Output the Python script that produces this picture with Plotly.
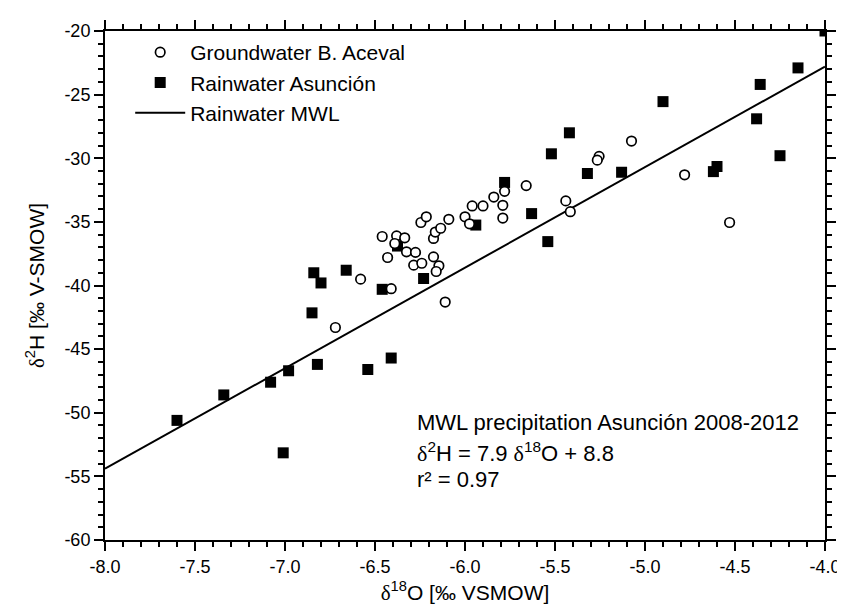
import plotly.graph_objects as go

# Groundwater B. Aceval (open circles)
gw_d18o = [-6.72, -6.58, -6.41, -6.11, -6.46, -6.43, -6.38, -6.335, -6.39, -6.325,
           -6.275, -6.285, -6.24, -6.245, -6.215, -6.175, -6.165, -6.135, -6.09, -6.175,
           -6.145, -6.16, -6.00, -5.975, -5.96, -5.90, -5.84, -5.79, -5.79, -5.78,
           -5.66, -5.44, -5.415, -5.255, -5.265, -5.075, -4.78, -4.53]
gw_d2h = [-43.3, -39.5, -40.25, -41.3, -36.15, -37.8, -36.1, -36.25, -36.7, -37.35,
          -37.4, -38.4, -38.25, -35.05, -34.6, -36.3, -35.8, -35.5, -34.8, -37.75,
          -38.45, -38.9, -34.6, -35.15, -33.75, -33.75, -33.05, -33.7, -34.7, -32.6,
          -32.15, -33.35, -34.2, -29.85, -30.15, -28.65, -31.3, -35.05]

# Rainwater Asunción (filled squares)
rw_d18o = [-7.60, -7.34, -7.08, -6.98, -6.82, -6.54, -6.41, -7.01, -6.84, -6.80,
           -6.66, -6.85, -6.46, -6.375, -6.23, -5.94, -5.78, -5.63, -5.54, -5.52,
           -5.42, -5.32, -5.13, -4.90, -4.62, -4.60, -4.38, -4.36, -4.25, -4.15, -4.0]
rw_d2h = [-50.6, -48.6, -47.6, -46.7, -46.2, -46.6, -45.7, -53.15, -39.0, -39.8,
          -38.8, -42.15, -40.3, -36.9, -39.45, -35.25, -31.9, -34.35, -36.55, -29.65,
          -28.0, -31.2, -31.1, -25.55, -31.05, -30.65, -26.9, -24.2, -29.8, -22.9, -20.0]

# Rainwater MWL (d2H = 7.9 d18O + 8.8) end points
mwl_d18o = [-8.0, -4.0]
mwl_d2h = [-54.4, -22.8]

x_tickvals = [-8.0, -7.5, -7.0, -6.5, -6.0, -5.5, -5.0, -4.5, -4.0]
x_ticktext = ["-8.0", "-7.5", "-7.0", "-6.5", "-6.0", "-5.5", "-5.0", "-4.5", "-4.0"]
y_tickvals = [-60, -55, -50, -45, -40, -35, -30, -25, -20]
y_ticktext = ["-60", "-55", "-50", "-45", "-40", "-35", "-30", "-25", "-20"]

FONT = "Arial, 'Liberation Sans', sans-serif"
delta = '<span style="font-family:Liberation Serif">δ</span>'

fig = go.Figure()
fig.add_trace(go.Scatter(
    x=mwl_d18o, y=mwl_d2h, mode="lines", name="Rainwater MWL",
    line=dict(color="black", width=2), legendrank=3))
fig.add_trace(go.Scatter(
    x=rw_d18o, y=rw_d2h, mode="markers", name="Rainwater Asunción",
    marker=dict(symbol="square", size=11, color="black", line=dict(width=0)),
    legendrank=2))
fig.add_trace(go.Scatter(
    x=gw_d18o, y=gw_d2h, mode="markers", name="Groundwater B. Aceval",
    marker=dict(symbol="circle", size=9.5, color="white",
                line=dict(color="black", width=1.7)),
    legendrank=1))

axis_common = dict(
    showline=True, linecolor="black", linewidth=2, mirror="allticks",
    ticks="outside", ticklen=9, tickwidth=2, tickcolor="black",
    showgrid=False, zeroline=False,
    tickfont=dict(family=FONT, size=18, color="black"),
)

fig.update_xaxes(
    range=[-8.0, -4.0], tickmode="array", tickvals=x_tickvals, ticktext=x_ticktext,
    minor=dict(tickmode="linear", tick0=-8.0, dtick=0.1, ticks="outside",
               ticklen=5, tickwidth=1.5, tickcolor="black", showgrid=False),
    title=dict(text=delta + "<sup>18</sup>O [‰ VSMOW]",
               font=dict(family=FONT, size=21, color="black"), standoff=10),
    **axis_common)
fig.update_yaxes(
    range=[-60, -20], tickmode="array", tickvals=y_tickvals, ticktext=y_ticktext,
    minor=dict(tickmode="linear", tick0=-60, dtick=1, ticks="outside",
               ticklen=5, tickwidth=1.5, tickcolor="black", showgrid=False),
    title=dict(text=delta + "<sup>2</sup>H [‰ V-SMOW]",
               font=dict(family=FONT, size=21, color="black"), standoff=14),
    **axis_common)

ann_font = dict(family=FONT, size=22, color="black")
ann_x = 0.430
fig.add_annotation(x=ann_x, y=0.2299, xref="paper", yref="paper",
                   xanchor="left", yanchor="middle", showarrow=False,
                   text="MWL precipitation Asunción 2008-2012", font=ann_font)
fig.add_annotation(x=ann_x, y=0.172, xref="paper", yref="paper",
                   xanchor="left", yanchor="middle", showarrow=False,
                   text=delta + "<sup>2</sup>H = 7.9 " + delta + "<sup>18</sup>O + 8.8",
                   font=ann_font)
fig.add_annotation(x=ann_x, y=0.118, xref="paper", yref="paper",
                   xanchor="left", yanchor="middle", showarrow=False,
                   text="r² = 0.97", font=ann_font)

fig.update_layout(
    width=845, height=607,
    margin=dict(l=97, r=18, t=23, b=75),
    paper_bgcolor="white", plot_bgcolor="white",
    showlegend=True,
    legend=dict(x=0.035, y=0.998, xanchor="left", yanchor="top",
                bgcolor="rgba(0,0,0,0)", borderwidth=0, itemwidth=50,
                font=dict(family=FONT, size=21, color="black"),
                tracegroupgap=0),
)

fig.write_html("out.html")
